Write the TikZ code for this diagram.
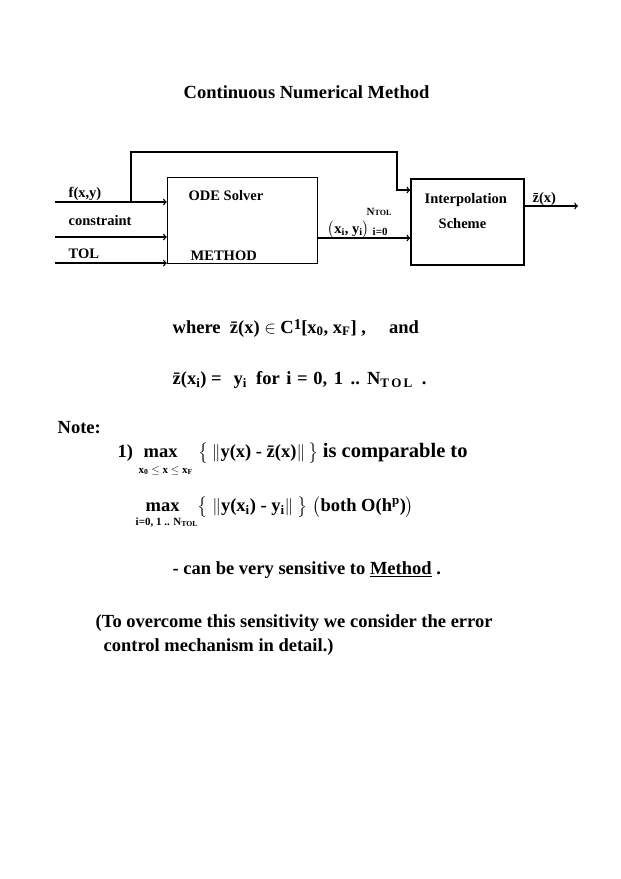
\documentclass[tikz,border=0pt]{standalone}
\usepackage{amsmath}
\usepackage{fontspec}
\setmainfont{Liberation Serif}
\usepackage{tikz}
\usetikzlibrary{positioning}
\tikzstyle{texto}=[inner sep=0pt,anchor=base west,font=\bfseries\fontsize{18.5}{22}\selectfont]
\tikzstyle{rotulo}=[inner sep=0pt,anchor=base west,font=\bfseries\fontsize{14.5}{17}\selectfont]
\tikzstyle{pequeno}=[inner sep=0pt,anchor=base west,font=\bfseries\fontsize{11}{13}\selectfont]
\tikzstyle{bloco}=[draw,inner sep=0pt,minimum height=86pt]

\begin{document}
\begin{tikzpicture}[x=1pt,y=-1pt,line width=1.4pt,>=to]
    \useasboundingbox (0,0) rectangle (621,879);
    \node [texto] (titulo) at (183,98) {Continuous Numerical Method};
    % blocos
    \node [bloco,minimum width=150pt] (ode) at (242.5,220.5) {};
    \node [bloco,minimum width=113pt] (interp) at (467.5,222) {};
    \node [rotulo] (odetxt) at (188,200) {ODE Solver};
    \node [rotulo] (metodo) at (190,260) {METHOD};
    \node [rotulo] (interptxt) at (424,203) {Interpolation};
    \node [rotulo] (esquema) at (438,228) {Scheme};
    % entradas
    \node [rotulo] (fxy) at (68,197) {f(x,y)};
    \node [rotulo] (restr) at (68,225) {constraint};
    \node [rotulo] (tol) at (68,258) {TOL};
    \coordinate (fin) at (55,202);
    \coordinate (cin) at (55,237);
    \coordinate (tin) at (55,263);
    \draw [->] (fin) -- (fin -| ode.west);
    \draw [->] (cin) -- (cin -| ode.west);
    \draw [->] (tin) -- (tin -| ode.west);
    \coordinate (tap) at (131,202);
    \coordinate (cima) at (131,152);
    \coordinate (desce) at (397,190);
    \draw [->] (tap) -- (cima) -| (desce) -- (desce -| interp.west);
    % saidas
    \coordinate (pts) at (0,238);
    \draw [->] (pts -| ode.east) -- (pts -| interp.west);
    \node [rotulo] (pares) at (327,233) {$\bigl($x\textsubscript{i}, y\textsubscript{i}$\bigr)$};
    \node [pequeno] (ntol) at (366,215) {N{\fontsize{8}{9}\selectfont TOL}};
    \node [pequeno] (izero) at (372,235) {i=0};
    \coordinate (zfim) at (578,206);
    \draw [->] (zfim -| interp.east) -- (zfim);
    \node [rotulo] (zx) at (532,202) {\=z(x)};
    % texto
    \node [texto] (onde) at (172,333) {where \ \=z(x) $\in$ C\raisebox{4pt}{\fontsize{15}{17}\selectfont 1}[x\textsubscript{0}, x\textsubscript{F}] , \quad and};
    \node [texto] (igual) at (172,384) {\=z(x\textsubscript{i}) =\hspace{12pt}y\textsubscript{i}\hspace{9pt}for\hspace{2pt} i\hspace{1pt} =\hspace{1pt} 0,\hspace{2pt} 1\hspace{3pt} ..\hspace{1pt} N\raisebox{-3pt}{\fontsize{13}{15}\selectfont T\,O\,L}\hspace{5pt} .};
    \node [texto] (nota) at (57,433) {Note:};
    \node [texto] (um) at (117,457) {1)};
    \node [texto] (max1) at (143,457) {max};
    \node [pequeno] (lim1) at (138,473) {x\textsubscript{0} $\leq$ x $\leq$ x\textsubscript{F}};
    \node [texto] (comp) at (198,457) {$\bigl\{$\,$\|$y(x) - \=z(x)$\|$\,$\bigr\}$ {\fontsize{20.5}{24}\selectfont is comparable to}};
    \node [texto] (max2) at (145,511) {max};
    \node [pequeno] (lim2) at (135,525) {i=0, 1 .. N\textsubscript{TOL}};
    \node [texto] (ambos) at (197,511) {$\bigl\{$ $\|$y(x\textsubscript{i}) - y\textsubscript{i}$\|$ $\bigr\}$ $\bigl($both O(h\textsuperscript{p})$\bigr)$};
    \node [texto] (sens) at (172,574) {- can be very sensitive to \underline{Method} .};
    \node [texto] (obs1) at (95,627) {(To overcome this sensitivity we consider the error};
    \node [texto] (obs2) at (103,651) {control mechanism in detail.)};
\end{tikzpicture}
\end{document}
